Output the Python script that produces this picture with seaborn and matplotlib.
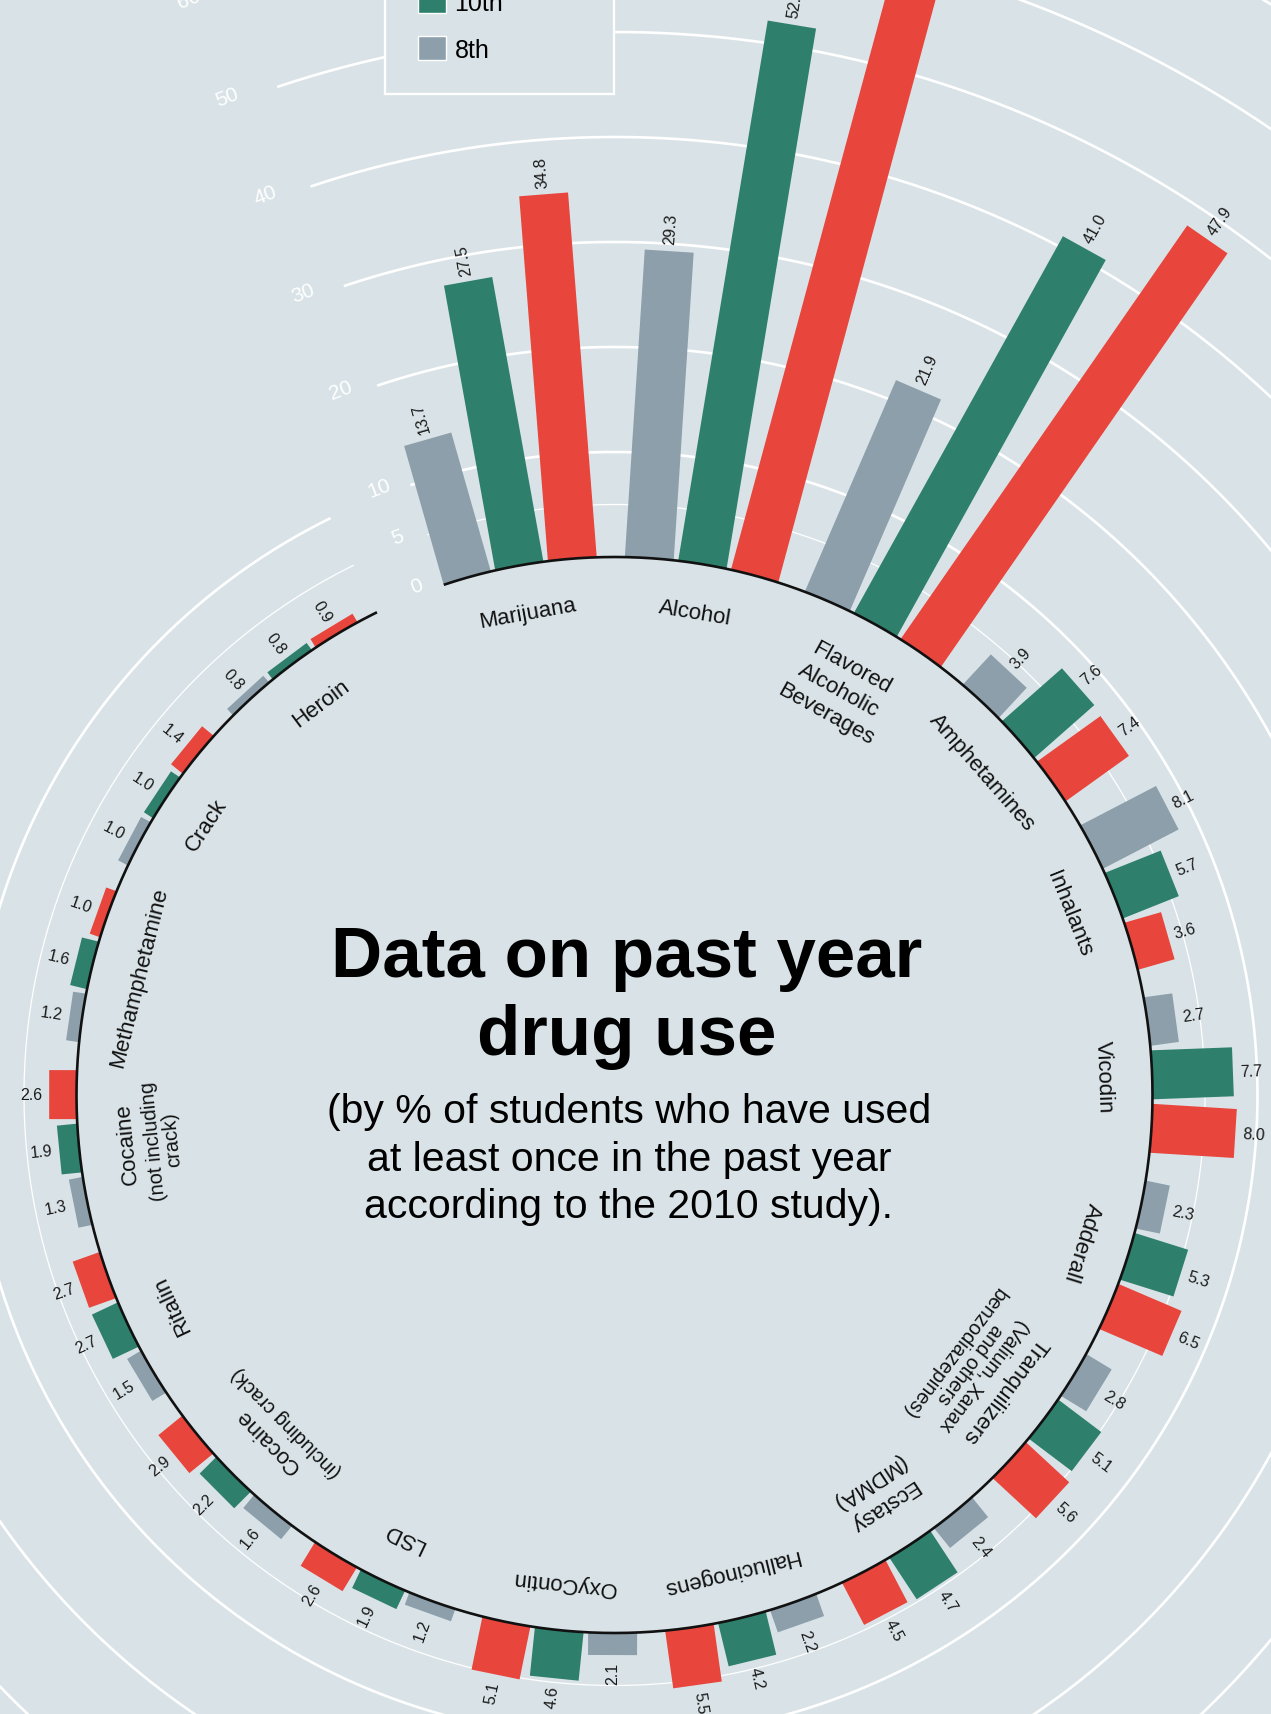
import numpy as np
import pandas as pd
import matplotlib.pyplot as plt
from matplotlib.patches import Patch
import seaborn as sns

# 2010 study, % of students who used at least once in the past year
drugs = ['Marijuana', 'Alcohol', 'Flavored\nAlcoholic\nBeverages', 'Amphetamines', 'Inhalants',
         'Vicodin', 'Adderall', 'Tranquilizers', 'Ecstasy\n(MDMA)', 'Hallucinogens', 'OxyContin',
         'LSD', 'Cocaine', 'Ritalin', 'Cocaine', 'Methamphetamine', 'Crack', 'Heroin']
notes = ['', '', '', '', '', '', '', '(Valium, Xanax\nand others\nbenzodiazepines)', '', '', '',
         '', '(including crack)', '', '(not including\ncrack)', '', '', '']
grade_8 = [13.7, 29.3, 21.9, 3.9, 8.1, 2.7, 2.3, 2.8, 2.4, 2.2, 2.1, 1.2, 1.6, 1.5, 1.3, 1.2, 1.0, 0.8]
grade_10 = [27.5, 52.1, 41.0, 7.6, 5.7, 7.7, 5.3, 5.1, 4.7, 4.2, 4.6, 1.9, 2.2, 2.7, 1.9, 1.6, 1.0, 0.8]
grade_12 = [34.8, 65.2, 47.9, 7.4, 3.6, 8.0, 6.5, 5.6, 4.5, 5.5, 5.1, 2.6, 2.9, 2.7, 2.6, 1.0, 1.4, 0.9]
grades = ['8th', '10th', '12th']
grid_ticks = [0, 5, 10, 20, 30, 40, 50, 60]
grid_circles = [5, 10, 20, 30, 40, 50, 60, 70]

df = pd.DataFrame({
    'group': np.repeat(np.arange(len(drugs)), 3),
    'grade': grades * len(drugs),
    'value': np.column_stack([grade_8, grade_10, grade_12]).ravel(),
})

BG = '#d9e3e7'
palette = dict(zip(grades, sns.color_palette(['#8c9fab', '#2e806c', '#e8453c'])))

# layout (pixels)
W, H = 1271, 1715
CX, CY = 614.5, 1096
R0 = 538
K = 10.5
THETA0 = 105.9
GROUP_STEP = 19.61
BAR_STEP = 5.7
BAR_W = 49
START, END = 108.5, 116.2 - 360


def radius(v):
    return R0 + K * np.asarray(v)


def to_xy(r, th):
    a = np.radians(th)
    return CX + r * np.cos(a), CY - r * np.sin(a)


sns.set_theme(style='white', rc={'axes.facecolor': BG, 'figure.facecolor': BG, 'text.color': 'black'})
plt.rcParams['font.family'] = ['Liberation Sans', 'DejaVu Sans']

fig = plt.figure(figsize=(W / 100, H / 100), dpi=100)
ax = fig.add_axes([0, 0, 1, 1])
ax.set_xlim(0, W)
ax.set_ylim(H, 0)
ax.axis('off')

# grid circles
for v in grid_circles:
    end = END if v <= 10 else -180
    th = np.linspace(START, end, 600)
    x, y = to_xy(radius(v), th)
    ax.plot(x, y, color='white', lw=0.9 if v == 5 else 1.9, zorder=1, solid_capstyle='butt')

for v in grid_ticks:
    x, y = to_xy(radius(v) + 8, 111.2)
    ax.text(x, y, str(v), color='white', fontsize=15, rotation=21.2,
            ha='center', va='center', rotation_mode='anchor', zorder=2)

# bars
df['theta'] = THETA0 - df['group'] * GROUP_STEP - df['grade'].map({g: i for i, g in enumerate(grades)}) * BAR_STEP
for _, row in df.iterrows():
    th = row['theta']
    a = np.radians(th)
    t = np.array([np.sin(a), np.cos(a)]) * BAR_W / 2
    bx, by = to_xy(R0, th)
    tx, ty = to_xy(radius(row['value']), th)
    xs = [bx - t[0], tx - t[0], tx + t[0], bx + t[0]]
    ys = [by - t[1], ty - t[1], ty + t[1], by + t[1]]
    ax.fill(xs, ys, color=palette[row['grade']], lw=0, zorder=3)

    flip = 110 < th % 360 < 271
    lx, ly = to_xy(radius(row['value']) + 7, th)
    ax.text(lx, ly, f"{row['value']:.1f}", fontsize=11.5, color='#1a1a1a',
            rotation=th - 180 if flip else th, rotation_mode='anchor',
            ha='right' if flip else 'left', va='center', zorder=4)

# baseline
th = np.linspace(START, END, 800)
x, y = to_xy(R0, th)
ax.plot(x, y, color='#111111', lw=1.9, zorder=5, solid_capstyle='butt')

# category labels
for g, (name, note) in enumerate(zip(drugs, notes)):
    th = THETA0 - g * GROUP_STEP - BAR_STEP
    x, y = to_xy(R0 - 38, th)
    ax.text(x, y, name, fontsize=16, color='#111111', rotation=th - 90, rotation_mode='anchor',
            ha='center', va='top', linespacing=1.35, zorder=4)
    if note:
        x, y = to_xy(R0 - 38 - 27, th)
        ax.text(x, y, note, fontsize=14.5, color='#111111', rotation=th - 90, rotation_mode='anchor',
                ha='center', va='top', linespacing=1.0, zorder=4)

# title
ax.text(627, 977, 'Data on past year', fontsize=51, fontweight='bold', ha='center', va='baseline', color='black')
ax.text(627, 1055, 'drug use', fontsize=51, fontweight='bold', ha='center', va='baseline', color='black')
sub = ['(by % of students who have used', 'at least once in the past year',
       'according to the 2010 study).']
for i, line in enumerate(sub):
    ax.text(629, 1123 + i * 47.6, line, fontsize=29.5, ha='center', va='baseline', color='black')

# legend
handles = [Patch(facecolor=palette[g], label=g) for g in reversed(grades)]
leg = ax.legend(handles=handles, loc='lower left', bbox_to_anchor=(385 / W, 1 - 95 / H, 229 / W, 0.2),
                bbox_transform=fig.transFigure, mode='expand', fontsize=18, frameon=True,
                fancybox=False, edgecolor='white', facecolor=BG, framealpha=1, borderpad=1.3,
                handlelength=1.12, handleheight=1.12, handletextpad=0.36, labelspacing=0.85,
                borderaxespad=0)
leg.get_frame().set_linewidth(1.6)
for txt in leg.get_texts():
    txt.set_color('black')
leg.set_zorder(10)

fig.savefig('out.png', dpi=100, facecolor=BG)
